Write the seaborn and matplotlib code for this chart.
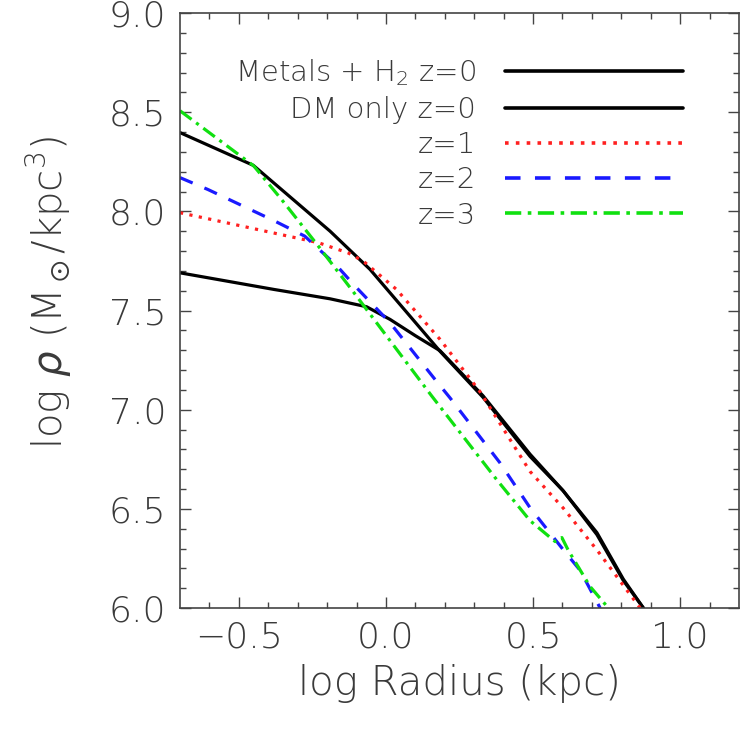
import numpy as np
import pandas as pd
import matplotlib
matplotlib.use("Agg")
import matplotlib.pyplot as plt
import seaborn as sns

# DATA
# Metals + H2 run, z=0 (cored)
x_metals=[-0.70,-0.38,-0.19,-0.066,0.014,0.10,0.184,0.33,0.49,0.60,0.717,0.807,0.875]
y_metals=[7.69,7.606,7.559,7.519,7.455,7.373,7.297,7.07,6.775,6.595,6.38,6.145,6.0]
# DM only run, z=0 (cusp)
x_dm=[-0.70,-0.451,-0.19,-0.054,0.184,0.33,0.49,0.603,0.717,0.807,0.875]
y_dm=[8.397,8.232,7.90,7.707,7.294,7.062,6.764,6.59,6.37,6.138,6.0]
# Metals + H2 run at higher redshift
x_z1=[-0.70,-0.491,-0.23,-0.128,-0.077,0.036,0.184,0.32,0.49,0.603,0.717,0.864]
y_z1=[7.993,7.926,7.842,7.79,7.749,7.606,7.354,7.09,6.688,6.503,6.293,6.0]
x_z2=[-0.70,-0.605,-0.378,-0.276,-0.168,-0.105,0.014,0.167,0.218,0.388,0.49,0.603,0.66,0.728]
y_z2=[8.17,8.11,7.951,7.875,7.727,7.623,7.438,7.152,7.059,6.731,6.505,6.293,6.19,6.0]
x_z3=[-0.70,-0.45,-0.355,-0.23,-0.117,0.155,0.377,0.49,0.575,0.598,0.62,0.694,0.756]
y_z3=[8.507,8.23,8.06,7.825,7.606,7.07,6.646,6.44,6.335,6.355,6.29,6.108,6.0]

labels=["Metals + H$_2$ z=0","DM only z=0","z=1","z=2","z=3"]
colors=["black","black","#ff2020","#1a1aff","#10e010"]
dash_styles=["","",(1,2),(4.3,4),(4.5,1.8,1,1.8)]

frames=[]
for lab,xs,ys in zip(labels,[x_metals,x_dm,x_z1,x_z2,x_z3],[y_metals,y_dm,y_z1,y_z2,y_z3]):
    frames.append(pd.DataFrame({"r":xs,"rho":ys,"series":lab}))
df=pd.concat(frames,ignore_index=True)

# STYLE
sns.set_style("white")
plt.rcParams["font.family"]=["DejaVu Sans"]
plt.rcParams["font.weight"]="light"
plt.rcParams["axes.labelweight"]="light"
plt.rcParams["mathtext.fontset"]="dejavusans"
txt="#3a3a3a"

fig=plt.figure(figsize=(7.48,7.35),dpi=100)
ax=fig.add_axes([180/748,1-608/735,559/748,595/735])

sns.lineplot(data=df,x="r",y="rho",hue="series",style="series",
             hue_order=labels,style_order=labels,
             palette=dict(zip(labels,colors)),dashes=dict(zip(labels,dash_styles)),
             sort=False,estimator=None,linewidth=2.3,legend=False,ax=ax)

ax.set_xlim(-0.7,1.2)
ax.set_ylim(6.0,9.0)
ax.set_xticks([-0.5,0.0,0.5,1.0])
ax.set_xticks(np.arange(-0.6,1.2,0.1),minor=True)
ax.set_yticks(np.arange(6.0,9.01,0.5))
ax.set_yticks(np.arange(6.0,9.0,0.1),minor=True)
ax.xaxis.set_major_formatter(matplotlib.ticker.FuncFormatter(lambda v,p:f"{v:.1f}".replace("-","\u2212")))
ax.yaxis.set_major_formatter(matplotlib.ticker.FormatStrFormatter("%.1f"))

for s in ax.spines.values():
    s.set_visible(True)
    s.set_color("#444444")
    s.set_linewidth(1.2)
ax.tick_params(which="both",direction="in",bottom=True,left=True,top=True,right=True,
               colors="#444444",labelcolor=txt)
ax.tick_params(which="major",length=8,width=1.0,labelsize=26)
ax.tick_params(which="minor",length=4,width=1.0)
ax.tick_params(axis="x",which="major",pad=9)
ax.tick_params(axis="y",which="major",pad=10)

ax.set_xlabel("log Radius (kpc)",fontsize=29,color=txt,fontweight="light",labelpad=7)
ax.set_ylabel(r"log $\rho$ (M$_\odot$/kpc$^3$)",fontsize=29,color=txt,fontweight="light")
ax.yaxis.set_label_coords(-0.19,0.53)

# LEGEND (text left of line, right aligned like the original)
leg=ax.legend(ax.get_lines(),labels,loc="upper right",bbox_to_anchor=(0.90,0.925),
              markerfirst=False,frameon=False,fontsize=21,handlelength=6.1,
              handletextpad=1.0,labelspacing=0.25,borderpad=0,borderaxespad=0)
for t in leg.get_texts():
    t.set_color(txt)
for h in leg.get_lines():
    h.set_linewidth(2.6)

fig.savefig("out.png",dpi=100)
